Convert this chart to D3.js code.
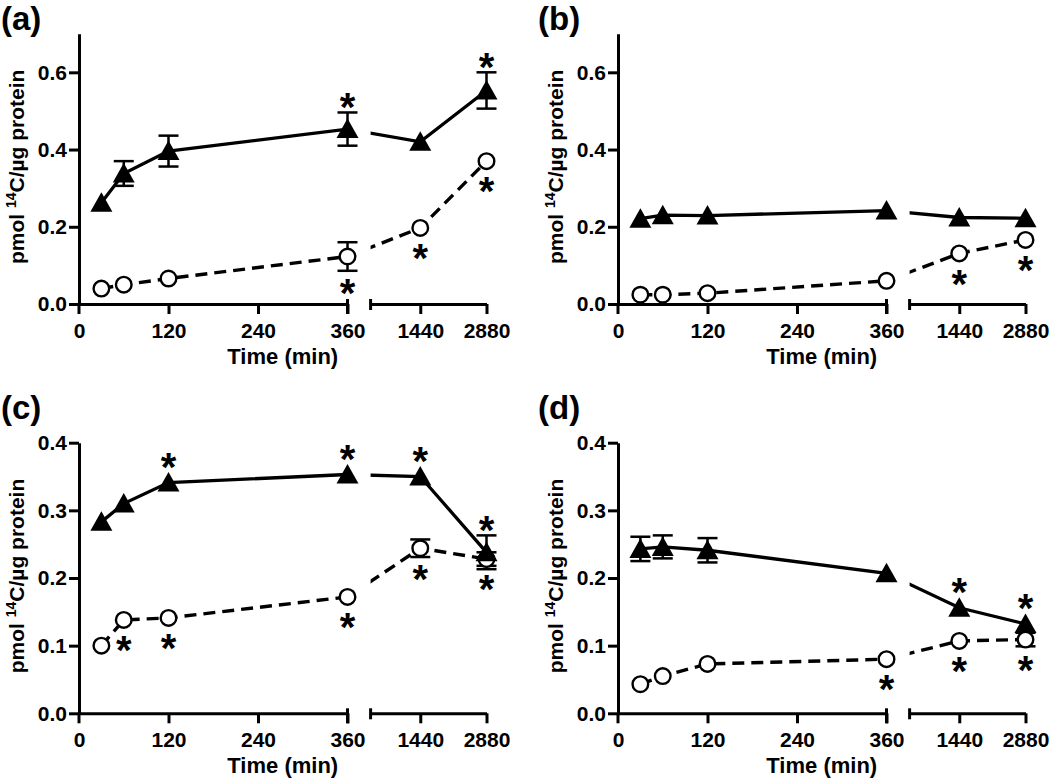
<!DOCTYPE html>
<html>
<head>
<meta charset="utf-8">
<script src="https://cdn.jsdelivr.net/npm/d3@7"></script>
<style>
  html, body { margin: 0; padding: 0; background: #fff; }
  svg { display: block; }
  text { font-family: "Liberation Sans", Arial, sans-serif; font-weight: bold; fill: #000; }
</style>
</head>
<body>
<svg id="chart" width="1050" height="782"></svg>
<script>
// ---------- data ----------
const times = [30, 60, 120, 360, 1440, 2880];
const leftTicks = [0, 120, 240, 360];
const rightTicks = [1440, 2880];
const panelLabels = ["(a)", "(b)", "(c)", "(d)"];
const yDomainTop = [0.7, 0.7, 0.4, 0.4];
const yTicksTop = [0, 0.2, 0.4, 0.6];
const yTicksBottom = [0, 0.1, 0.2, 0.3, 0.4];

// panel (a)
const aTri = [0.262, 0.338, 0.396, 0.453, 0.420, 0.553];
const aTriErr = [0, 0.032, 0.040, 0.043, 0, 0.047];
const aTriStar = [0, 0, 0, 1, 0, 1];
const aCirc = [0.040, 0.050, 0.066, 0.123, 0.197, 0.370];
const aCircErr = [0, 0, 0, 0.037, 0, 0];
const aCircStar = [0, 0, 0, 1, 1, 1];
// panel (b)
const bTri = [0.221, 0.230, 0.229, 0.242, 0.224, 0.222];
const bTriErr = [0, 0, 0, 0, 0, 0];
const bTriStar = [0, 0, 0, 0, 0, 0];
const bCirc = [0.024, 0.024, 0.028, 0.060, 0.131, 0.166];
const bCircErr = [0, 0, 0, 0, 0, 0];
const bCircStar = [0, 0, 0, 0, 1, 1];
// panel (c)
const cTri = [0.283, 0.310, 0.341, 0.353, 0.350, 0.238];
const cTriErr = [0, 0, 0, 0, 0, 0.025];
const cTriStar = [0, 0, 1, 1, 1, 1];
const cCirc = [0.100, 0.138, 0.141, 0.172, 0.244, 0.228];
const cCircErr = [0, 0, 0, 0, 0.013, 0.010];
const cCircStar = [0, 1, 1, 1, 1, 1];
// panel (d)
const dTri = [0.243, 0.246, 0.241, 0.207, 0.156, 0.132];
const dTriErr = [0.018, 0.017, 0.018, 0, 0, 0];
const dTriStar = [0, 0, 0, 0, 1, 1];
const dCirc = [0.043, 0.055, 0.073, 0.080, 0.107, 0.109];
const dCircErr = [0, 0, 0, 0, 0, 0.010];
const dCircStar = [0, 0, 0, 1, 1, 1];

const panels = [
  { tri: aTri, triErr: aTriErr, triStar: aTriStar, circ: aCirc, circErr: aCircErr, circStar: aCircStar },
  { tri: bTri, triErr: bTriErr, triStar: bTriStar, circ: bCirc, circErr: bCircErr, circStar: bCircStar },
  { tri: cTri, triErr: cTriErr, triStar: cTriStar, circ: cCirc, circErr: cCircErr, circStar: cCircStar },
  { tri: dTri, triErr: dTriErr, triStar: dTriStar, circ: dCirc, circErr: dCircErr, circStar: dCircStar }
];

// ---------- layout ----------
const svg = d3.select("#chart");
const colX = [79, 618];          // y-axis x position per column
const rowY0 = [304, 713.3];      // y=0 pixel per row
const rowYTop = [33.7, 442.7];   // top of y axis per row
const leftW = 268.5;             // 0..360 span
const rightStart = 291.6;        // offset of right segment start
const rightEnd = 407.5;          // offset of 2880
const labelX = [1, 538];
const labelY = [30, 419];

const AX = 3;
const FF = '"Liberation Sans", Arial, sans-serif';

panels.forEach((p, i) => {
  const col = i % 2, row = Math.floor(i / 2);
  const x0 = colX[col];
  const g = svg.append("g");
  const y = d3.scaleLinear().domain([0, yDomainTop[i]]).range([rowY0[row], rowYTop[row]]);
  const xL = d3.scaleLinear().domain([0, 360]).range([x0, x0 + leftW]);
  const xR = d3.scaleLinear().domain([360, 2880]).range([x0 + rightStart, x0 + rightEnd]);
  const xp = t => (t <= 360 ? xL(t) : xR(t));
  const yb = rowY0[row];

  // panel label
  g.append("text").attr("x", labelX[col]).attr("y", labelY[row])
    .attr("font-size", 33).text(panelLabels[i]);

  // y axis
  const yAxis = d3.axisLeft(y).tickValues(row === 0 ? yTicksTop : yTicksBottom)
    .tickFormat(d3.format(".1f")).tickSize(10).tickSizeOuter(0).tickPadding(2);
  const ya = g.append("g").attr("transform", `translate(${x0},0)`).call(yAxis);
  ya.select(".domain").attr("stroke-width", AX).attr("stroke", "#000");
  ya.selectAll(".tick line").attr("stroke-width", AX).attr("stroke", "#000");
  ya.selectAll(".tick text").attr("font-size", 21).attr("fill", "#000")
    .style("font-family", FF).style("font-weight", "bold");
  // y-axis extension below the x-axis (tick at 0)
  g.append("line").attr("x1", x0).attr("x2", x0).attr("y1", yb).attr("y2", yb + 10)
    .attr("stroke", "#000").attr("stroke-width", AX);

  // x axis segments
  const xaL = g.append("g").attr("transform", `translate(0,${yb})`)
    .call(d3.axisBottom(xL).tickValues(leftTicks).tickFormat(d3.format("d"))
      .tickSize(10).tickSizeOuter(0).tickPadding(9));
  const xaR = g.append("g").attr("transform", `translate(0,${yb})`)
    .call(d3.axisBottom(xR).tickValues(rightTicks).tickFormat(d3.format("d"))
      .tickSize(10).tickSizeOuter(0).tickPadding(9));
  [xaL, xaR].forEach(a => {
    a.select(".domain").attr("stroke-width", AX).attr("stroke", "#000");
    a.selectAll(".tick line").attr("stroke-width", AX).attr("stroke", "#000");
    a.selectAll(".tick text").attr("font-size", 21).attr("fill", "#000")
      .style("font-family", FF).style("font-weight", "bold");
  });
  xaL.selectAll(".tick").filter(d => d === 0).select("line").remove();
  // break end-caps
  g.append("line").attr("x1", xL(360)).attr("x2", xL(360)).attr("y1", yb - 5).attr("y2", yb + 10)
    .attr("stroke", "#000").attr("stroke-width", AX);
  g.append("line").attr("x1", xR(360)).attr("x2", xR(360)).attr("y1", yb - 5).attr("y2", yb + 6)
    .attr("stroke", "#000").attr("stroke-width", AX);

  // x axis title
  g.append("text").attr("x", (x0 + x0 + rightEnd) / 2).attr("y", yb + 60)
    .attr("text-anchor", "middle").attr("font-size", 22).text("Time (min)");

  // y axis title
  const yc = (rowY0[row] + rowYTop[row]) / 2 - 2;
  const yt = g.append("text").attr("transform", `translate(${x0 - 55},${yc}) rotate(-90)`)
    .attr("text-anchor", "middle").attr("font-size", 21);
  yt.append("tspan").text("pmol ");
  yt.append("tspan").attr("font-size", 14).attr("dy", -8).text("14");
  yt.append("tspan").attr("dy", 8).text("C/µg protein");

  // clip for axis break
  const clipId = "clip" + i;
  const cp = svg.append("clipPath").attr("id", clipId);
  cp.append("rect").attr("x", x0 - 30).attr("y", 0).attr("width", leftW + 30).attr("height", 782);
  cp.append("rect").attr("x", xR(360)).attr("y", 0).attr("width", rightEnd - rightStart + 40).attr("height", 782);

  const line = d3.line().x((d, k) => xp(times[k])).y(d => y(d));

  // error bars
  function errBars(vals, errs) {
    vals.forEach((v, k) => {
      if (!errs[k]) return;
      const cx = xp(times[k]);
      const e = errs[k];
      g.append("line").attr("x1", cx).attr("x2", cx).attr("y1", y(v - e)).attr("y2", y(v + e))
        .attr("stroke", "#000").attr("stroke-width", 2.5);
      [v - e, v + e].forEach(w => {
        g.append("line").attr("x1", cx - 10).attr("x2", cx + 10).attr("y1", y(w)).attr("y2", y(w))
          .attr("stroke", "#000").attr("stroke-width", 2.5);
      });
    });
  }
  errBars(p.circ, p.circErr);
  errBars(p.tri, p.triErr);

  // lines
  g.append("path").datum(p.circ).attr("d", line).attr("fill", "none")
    .attr("stroke", "#000").attr("stroke-width", 3.4).attr("stroke-dasharray", "12,7")
    .attr("clip-path", `url(#${clipId})`);
  g.append("path").datum(p.tri).attr("d", line).attr("fill", "none")
    .attr("stroke", "#000").attr("stroke-width", 3.3).attr("clip-path", `url(#${clipId})`);

  // circle markers
  p.circ.forEach((v, k) => {
    g.append("circle").attr("cx", xp(times[k])).attr("cy", y(v)).attr("r", 7.8)
      .attr("fill", "#fff").attr("stroke", "#000").attr("stroke-width", 2.4);
  });
  // triangle markers
  p.tri.forEach((v, k) => {
    const cx = xp(times[k]), cy = y(v);
    g.append("path").attr("d", `M${cx},${cy - 10.5}L${cx + 11},${cy + 9}L${cx - 11},${cy + 9}Z`)
      .attr("fill", "#000");
  });

  // significance stars
  const FS = 40;
  function star(cx, cyCenter) {
    g.append("text").attr("x", cx).attr("y", cyCenter + 0.58 * FS).attr("text-anchor", "middle")
      .attr("font-size", FS).text("*");
  }
  p.tri.forEach((v, k) => {
    if (!p.triStar[k]) return;
    const top = Math.min(y(v) - 10, p.triErr[k] ? y(v + p.triErr[k]) : Infinity);
    star(xp(times[k]), top - 15);
  });
  p.circ.forEach((v, k) => {
    if (!p.circStar[k]) return;
    const bot = Math.max(y(v) + 8, p.circErr[k] ? y(v - p.circErr[k]) : -Infinity);
    star(xp(times[k]), bot + 13);
  });
});
</script>
</body>
</html>
